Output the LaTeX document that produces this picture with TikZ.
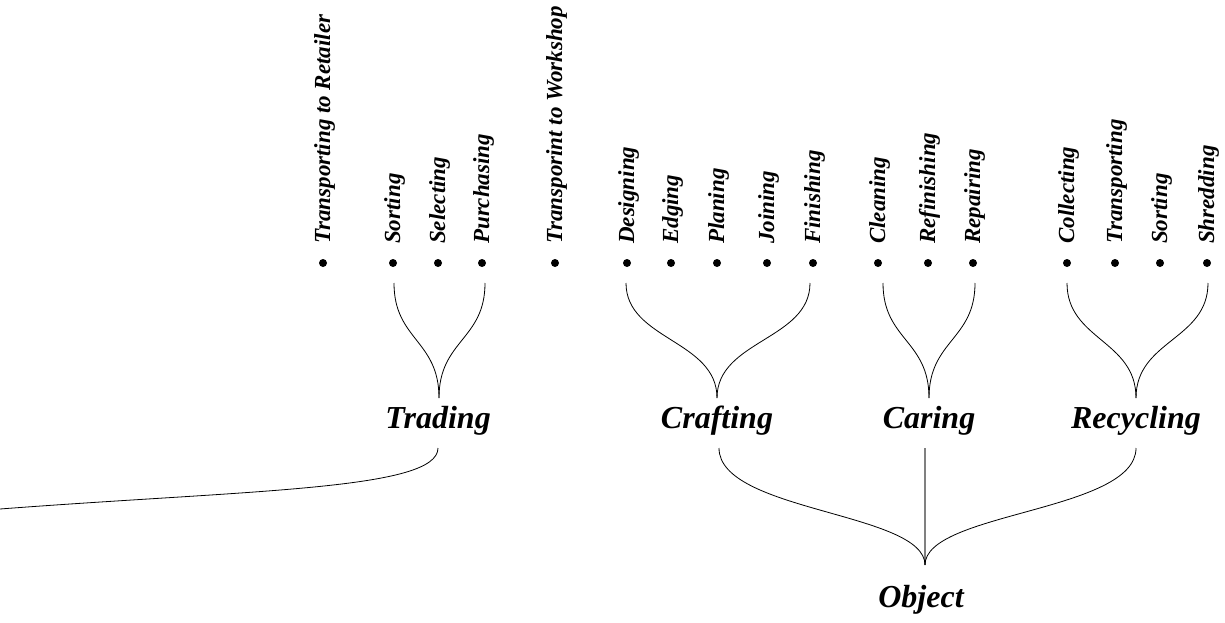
\documentclass[tikz,border=0pt]{standalone}
\usepackage{fontspec}
\setmainfont{Liberation Serif}
\begin{document}
\begin{tikzpicture}[x=1pt,y=-1pt,
  dotn/.style={circle,fill=black,inner sep=0pt,minimum size=8pt},
  act/.style={rotate=90,anchor=base west,inner sep=0pt,font=\fontsize{23}{23}\selectfont\bfseries\itshape},
  cat/.style={anchor=base,inner sep=0pt,font=\fontsize{32}{32}\selectfont\bfseries\itshape},
  link/.style={line width=0.8pt,black},
  mid/.style={line width=1.5pt,black!50}]
\useasboundingbox (0,0) rectangle (1225,623);
% activity dots and labels
\foreach \n/\x/\t in {a1/323/Transporting to Retailer, a2/393/Sorting, a3/438/Selecting, a4/482/Purchasing,
  a5/555/Transporint to Workshop, a6/627/Designing, a7/671/Edging, a8/717/Planing, a9/767/Joining,
  a10/813/Finishing, a11/878/Cleaning, a12/928/Refinishing, a13/973/Repairing, a14/1067/Collecting,
  a15/1115/Transporting, a16/1160/Sorting, a17/1207/Shredding}{
  \node[dotn] (\n) at (\x,263) {};
  \node[act] (\n t) at (\x+7,244) {\t};
}
% category labels
\node[cat] (trading) at (438,428) {Trading};
\node[cat] (crafting) at (717,428) {Crafting};
\node[cat] (caring) at (929,428) {Caring};
\node[cat] (recycling) at (1136,428) {Recycling};
\node[cat] (object) at (921,607) {Object};
% fork coordinates
\coordinate (trL) at (394,283); \coordinate (trR) at (485,283); \coordinate (trJ) at (439,398);
\coordinate (crL) at (626,283); \coordinate (crR) at (810,283); \coordinate (crJ) at (717,398);
\coordinate (caL) at (883,283); \coordinate (caR) at (975,283); \coordinate (caJ) at (929,398);
\coordinate (reL) at (1067,283); \coordinate (reR) at (1208,283); \coordinate (reJ) at (1136,398);
\coordinate (crB) at (719,448); \coordinate (caB) at (925,448); \coordinate (reB) at (1136,448);
\coordinate (obJ) at (925,565);
\coordinate (trB) at (438,448); \coordinate (edge) at (0,509);
% forks
\foreach \l/\r/\j in {trL/trR/trJ, crL/crR/crJ, caL/caR/caJ, reL/reR/reJ}{
  \draw[link] (\l) .. controls (\l |- 0,340) and (\j |- 0,340) .. (\j);
  \draw[link] (\r) .. controls (\r |- 0,340) and (\j |- 0,340) .. (\j);
}
\draw[mid] (caB) -- (obJ);
\draw[link] (crB) .. controls (719,512) and (925,512) .. (obJ);
\draw[link] (reB) .. controls (1136,512) and (925,512) .. (obJ);
\draw[link] (trB) .. controls (438,490) and (250,490) .. (edge);
\end{tikzpicture}
\end{document}
